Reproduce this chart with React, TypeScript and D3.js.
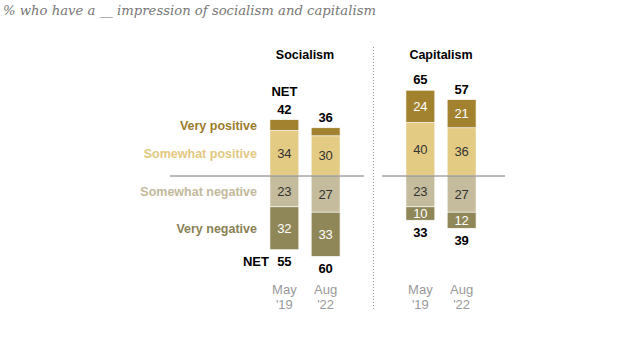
import React from "react";
import * as d3 from "d3";

const topics = ["Socialism", "Capitalism"];
const periods = ["May\n'19", "Aug\n'22"];
const categories = ["Very positive", "Somewhat positive", "Somewhat negative", "Very negative"];
// values[topic][period] = [very pos, somewhat pos, somewhat neg, very neg]
const socialismValues = [[8, 34, 23, 32], [6, 30, 27, 33]];
const capitalismValues = [[24, 40, 23, 10], [21, 36, 27, 12]];
const netPositive = [[42, 36], [65, 57]];
const netNegative = [[55, 60], [33, 39]];
const showSegmentLabel = [[false, true, true, true], [true, true, true, true]];

const colors = ["#a2822f", "#e3cb84", "#c5bc9d", "#8f8757"];
const labelColors = ["#9c7c2c", "#e2c880", "#c2b99a", "#8a8254"];
const textColors = ["#fff", "#333", "#333", "#fff"];

export default function App() {
  const W = 640, H = 360;
  const baseline = 176;
  const y = d3.scaleLinear().domain([0, 100]).range([0, 134]);
  const panelX = [
    d3.scaleBand().domain(periods).range([265, 345]).paddingInner(0.3).paddingOuter(0.12),
    d3.scaleBand().domain(periods).range([401, 481]).paddingInner(0.3).paddingOuter(0.12),
  ];
  const allValues = [socialismValues, capitalismValues];
  const font = "'Liberation Sans', Arial, sans-serif";

  return (
    <svg width={W} height={H} style={{ position: "absolute", left: 0, top: 0 }} fontFamily={font}>
      <rect width={W} height={H} fill="#fff" />
      <text x={3} y={15} fontFamily="'DejaVu Serif', Georgia, serif" fontStyle="italic" fontSize={13} fill="#777" textLength={373} lengthAdjust="spacingAndGlyphs">
        % who have a __ impression of socialism and capitalism
      </text>
      <line x1={373.5} x2={373.5} y1={47} y2={310} stroke="#999" strokeWidth={1} strokeDasharray="1,2" />
      {topics.map((t, ti) => {
        const xs = panelX[ti];
        const bw = xs.bandwidth();
        const cx = (xs(periods[0])! + xs(periods[1])! + bw) / 2;
        return (
          <g key={t}>
            <text x={cx} y={59} textAnchor="middle" fontWeight="bold" fontSize={12.5} fill="#000">{t}</text>
            {periods.map((p, pi) => {
              const vals = allValues[ti][pi];
              const x0 = xs(p)!;
              const xm = x0 + bw / 2;
              // positive stacks upward: somewhat positive (1) near baseline, then very positive (0)
              const segs: { i: number; y0: number; y1: number }[] = [];
              let top = baseline;
              [1, 0].forEach((i) => {
                const h = y(vals[i]);
                segs.push({ i, y0: top - h, y1: top });
                top -= h;
              });
              let bot = baseline;
              [2, 3].forEach((i) => {
                const h = y(vals[i]);
                segs.push({ i, y0: bot, y1: bot + h });
                bot += h;
              });
              const lines = p.split("\n");
              return (
                <g key={p}>
                  {segs.map((s) => (
                    <g key={s.i}>
                      <rect x={x0} y={s.y0} width={bw} height={s.y1 - s.y0} fill={colors[s.i]} stroke="#fff" strokeWidth={0.6} />
                      {showSegmentLabel[ti][s.i] && (
                        <text x={xm} y={(s.y0 + s.y1) / 2 + 4.5} textAnchor="middle" fontSize={13} fill={textColors[s.i]}>
                          {vals[s.i]}
                        </text>
                      )}
                    </g>
                  ))}
                  <text x={xm} y={top - 6} textAnchor="middle" fontWeight="bold" fontSize={13} fill="#000">{netPositive[ti][pi]}</text>
                  {ti === 0 && pi === 0 && (
                    <text x={xm} y={top - 23.5} textAnchor="middle" fontWeight="bold" fontSize={13} fill="#000">NET</text>
                  )}
                  <text x={xm} y={bot + 16.5} textAnchor="middle" fontWeight="bold" fontSize={13} fill="#000">{netNegative[ti][pi]}</text>
                  {ti === 0 && pi === 0 && (
                    <text x={x0 - 1} y={bot + 16.5} textAnchor="end" fontWeight="bold" fontSize={13} fill="#000">NET</text>
                  )}
                  {lines.map((l, li) => (
                    <text key={li} x={xm} y={294 + li * 15} textAnchor="middle" fontSize={13} fill="#999">{l}</text>
                  ))}
                  {ti === 0 && pi === 0 && segs.map((s) => (
                    <text key={"c" + s.i} x={257} y={(s.y0 + s.y1) / 2 + 4.5} textAnchor="end" fontWeight="bold" fontSize={12.5} fill={labelColors[s.i]}>
                      {categories[s.i]}
                    </text>
                  ))}
                </g>
              );
            })}
            <line
              x1={ti === 0 ? 170 : 382}
              x2={ti === 0 ? 364 : 505}
              y1={baseline}
              y2={baseline}
              stroke="#777"
              strokeWidth={1}
            />
          </g>
        );
      })}
    </svg>
  );
}
